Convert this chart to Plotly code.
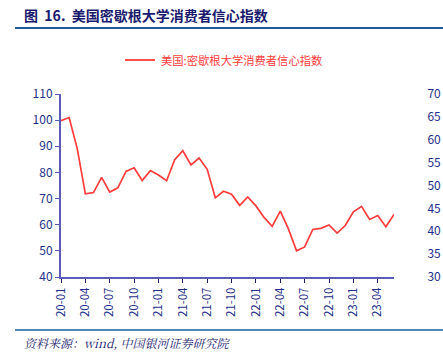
import plotly.graph_objects as go

months = [f"{y:02d}-{m:02d}" for y in (20, 21, 22, 23) for m in range(1, 13)][:42]
values = [99.8, 101.0, 89.1, 71.8, 72.3, 78.1, 72.5, 74.1, 80.4, 81.8, 76.9, 80.7,
          79.0, 76.8, 84.9, 88.3, 82.9, 85.5, 81.2, 70.3, 72.8, 71.7, 67.4, 70.6,
          67.2, 62.8, 59.4, 65.2, 58.4, 50.0, 51.5, 58.2, 58.6, 59.9, 56.8, 59.7,
          64.9, 67.0, 62.0, 63.5, 59.2, 63.9]
series_name = "美国:密歇根大学消费者信心指数"
left_ticks = [40, 50, 60, 70, 80, 90, 100, 110]
right_ticks = [30, 35, 40, 45, 50, 55, 60, 65, 70]
x_ticks = months[::3][:14]

W, H = 443, 353
L, R, T, B = 61, 49, 94, 76
pw, ph = W - L - R, H - T - B
def px(x): return (x - L) / pw
def py(y): return (H - B - y) / ph

axis_col = "#5B5BB8"
lab_col = "#1F2F8A"
navy = "#1A1A6E"
font = "Noto Sans CJK SC, Microsoft YaHei, sans-serif"

fig = go.Figure()
fig.add_trace(go.Scatter(x=list(range(len(values))), y=values, mode="lines",
                         line=dict(color="#FF3B3B", width=1.7), name=series_name,
                         showlegend=False))
fig.add_trace(go.Scatter(x=[None], y=[None], yaxis="y2", showlegend=False))

fig.update_layout(
    width=W, height=H, margin=dict(l=L, r=R, t=T, b=B, autoexpand=False),
    paper_bgcolor="white", plot_bgcolor="white",
    font=dict(family=font, color=lab_col, size=12),
    xaxis=dict(range=[0, len(values) - 1], tickmode="array", automargin=False,
               tickvals=[months.index(t) for t in x_ticks], ticktext=x_ticks,
               tickangle=-90, showgrid=False, zeroline=False,
               showline=True, linecolor=axis_col, linewidth=2,
               ticks="outside", ticklen=4, tickcolor=navy, tickwidth=1,
               tickfont=dict(size=11.5, color=lab_col)),
    yaxis=dict(range=[40, 110], tickvals=left_ticks, showgrid=False, zeroline=False,
               showline=True, linecolor=axis_col, linewidth=2, automargin=False,
               ticks="outside", ticklen=4, tickcolor=axis_col,
               tickfont=dict(size=12, color=lab_col)),
    yaxis2=dict(range=[30, 70], tickvals=right_ticks, overlaying="y", side="right",
                showgrid=False, zeroline=False, showline=False, automargin=False,
                ticks="outside", ticklen=30, tickcolor="rgba(0,0,0,0)",
                tickfont=dict(size=12, color=lab_col)),
)

fig.add_annotation(text="<b>图  16.  美国密歇根大学消费者信心指数</b>", xref="paper", yref="paper",
                   x=px(22), y=py(15), xanchor="left", yanchor="middle", showarrow=False,
                   font=dict(family="Noto Sans CJK SC, sans-serif", size=14, color=navy))
fig.add_shape(type="line", xref="paper", yref="paper", x0=px(15), x1=px(443), y0=py(28), y1=py(28),
              line=dict(color="#1F5C99", width=2))
fig.add_shape(type="line", xref="paper", yref="paper", x0=px(125), x1=px(155), y0=py(60), y1=py(60),
              line=dict(color="#FF3B3B", width=1.8))
fig.add_annotation(text=series_name, xref="paper", yref="paper", x=px(159), y=py(60),
                   xanchor="left", yanchor="middle", showarrow=False,
                   font=dict(size=11.3, color="#FF3B3B"))
fig.add_shape(type="line", xref="paper", yref="paper", x0=px(15), x1=px(443), y0=py(330), y1=py(330),
              line=dict(color="#1F5C99", width=1.5))
fig.add_annotation(text="<i>资料来源：wind, 中国银河证券研究院</i>", xref="paper", yref="paper",
                   x=px(22), y=py(342), xanchor="left", yanchor="middle", showarrow=False,
                   font=dict(family="Noto Serif CJK SC, Liberation Serif, serif", size=12, color=navy))

fig.write_html("out.html")
